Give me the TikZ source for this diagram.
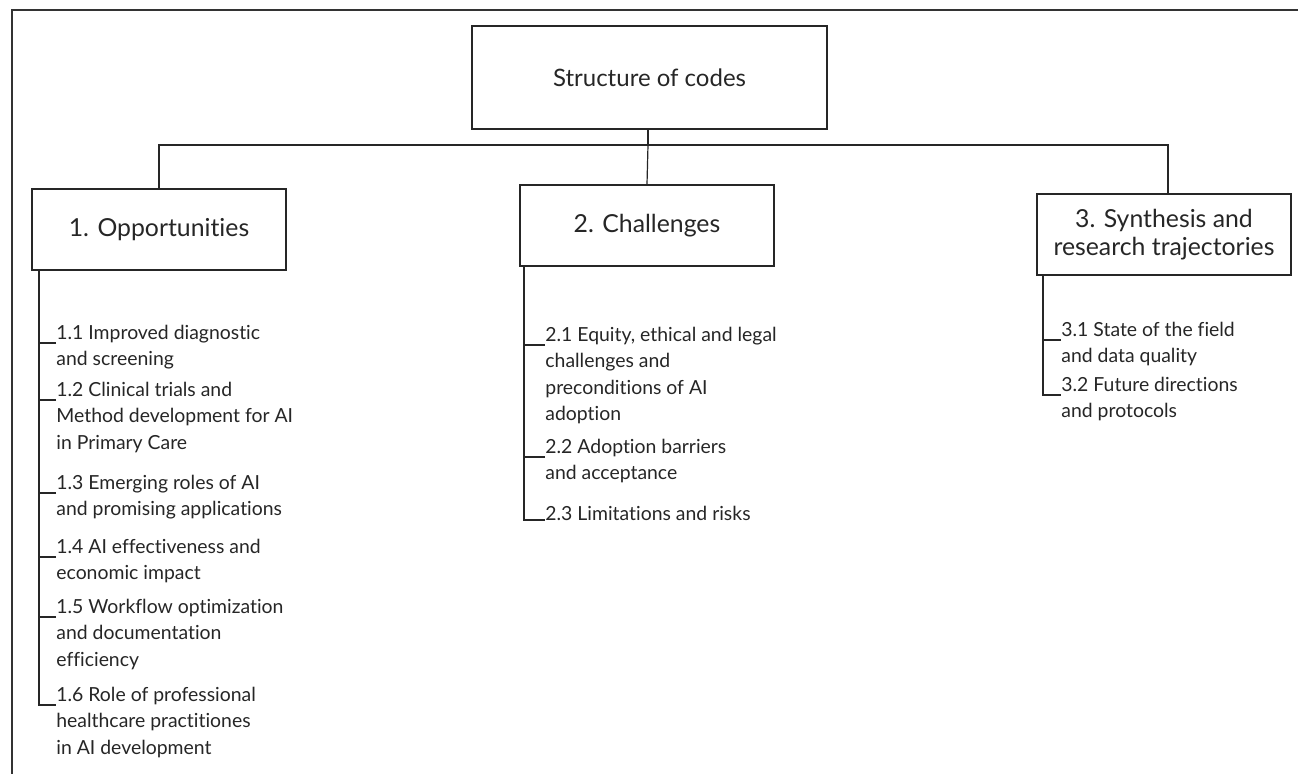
\documentclass[tikz,border=0pt]{standalone}
\usepackage{fontspec}
\setmainfont{Lato}[Ligatures=NoCommon]
\usetikzlibrary{positioning}

\tikzset{
  frame/.style={draw=black!80, line width=0.6pt},
  link/.style={draw=black!85, line width=0.6pt},
  codebox/.style={draw=black!85, line width=0.6pt, minimum width=127pt, minimum height=40.5pt,
    align=center, inner sep=2pt, text=black!85, font=\fontsize{12.4}{14}\selectfont},
  topbox/.style={codebox, minimum width=177.5pt, minimum height=51.5pt,
    font=\fontsize{12}{14}\selectfont},
  % first baseline sits 9.31pt below the top of the node
  subcode/.style={anchor=north west, yshift=9.31pt, inner sep=0pt, align=left, text=black!85,
    font=\fontsize{9.7}{13.3}\selectfont, execute at begin node=\strut},
}

\begin{document}
\begin{tikzpicture}[x=0.5pt, y=-0.5pt]
\useasboundingbox (0,0) rectangle (1298,774);
\draw[frame] (12,774) -- (12,10) -- (1298,10);

% code groups
\node[topbox]  (codes) at (649.5,77.5) {\raisebox{-2pt}{Structure of codes}};
\node[codebox] (opp)   at (159,229.5)  {1. Opportunities};
\node[codebox] (chal)  at (647,225.5)  {2. Challenges};
\node[codebox] (syn)   at (1164,234.5) {3. Synthesis and\\research trajectories};

% subcodes
\node[subcode] (o1) at (56,343) {1.1 Improved diagnostic\\and screening};
\node[subcode] (o2) at (56,400) {1.2 Clinical trials and\\Method development for AI\\in Primary Care};
\node[subcode] (o3) at (56,493) {1.3 Emerging roles of AI\\and promising applications};
\node[subcode] (o4) at (56,557) {1.4 AI effectiveness and\\economic impact};
\node[subcode] (o5) at (56,617) {1.5 Workflow optimization\\and documentation\\efficiency};
\node[subcode] (o6) at (56,705) {1.6 Role of professional\\healthcare practitiones\\in AI development};

\node[subcode] (c1) at (545,345) {2.1 Equity, ethical and legal\\challenges and\\preconditions of AI\\adoption};
\node[subcode] (c2) at (545,457) {2.2 Adoption barriers\\and acceptance};
\node[subcode] (c3) at (545,520) {2.3 Limitations and risks};

\node[subcode] (s1) at (1061,340) {3.1 State of the field\\and data quality};
\node[subcode] (s2) at (1061,395) {3.2 Future directions\\and protocols};

% Connect nodes
\coordinate (hub) at (648,145);
\draw[link] (hub |- codes.south) -- (hub);
\draw[link] (opp.north) |- (hub) -| ([xshift=2pt]syn.north);
\draw[link] (hub) -- (chal.north);

\coordinate (otrunk) at (39,271);
\coordinate (ctrunk) at (524,267);
\coordinate (strunk) at (1043,275);
\draw[link] (otrunk) |- ([yshift=-9.31pt]o6.north west);
\draw[link] (ctrunk) |- ([yshift=-9.31pt]c3.north west);
\draw[link] (strunk) |- ([yshift=-9.31pt]s2.north west);
\foreach \i in {1,...,5}
  \draw[link] ([yshift=-9.31pt]o\i.north west) -- ++(-17,0);
\foreach \i in {1,2}
  \draw[link] ([yshift=-9.31pt]c\i.north west) -- ++(-21,0);
\draw[link] ([yshift=-9.31pt]s1.north west) -- ++(-18,0);

\end{tikzpicture}
\end{document}
